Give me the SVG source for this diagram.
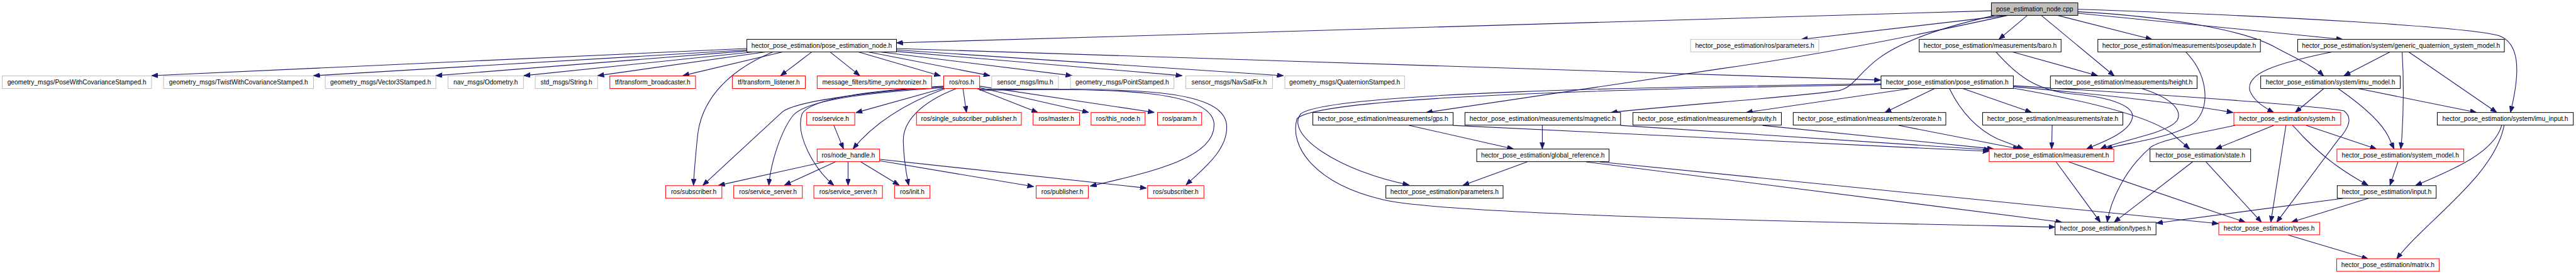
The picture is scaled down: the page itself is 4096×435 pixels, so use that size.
<svg xmlns="http://www.w3.org/2000/svg" width="4096" height="435" viewBox="0 0 4096 435">
<style>
.e{fill:none;stroke:#191970;stroke-width:1.4;marker-end:url(#ah)}
.n rect{fill:#fff;stroke:#000;stroke-width:1.3}
.g rect{stroke:#bfbfbf}
.r rect{stroke:#f00}
.root rect{fill:#bfbfbf}
text{font-family:"Liberation Sans",Arial,sans-serif;font-size:13.2px;text-anchor:middle;fill:#000}
</style>
<defs>
<marker id="ah" markerUnits="userSpaceOnUse" markerWidth="14" markerHeight="10" refX="13" refY="5" orient="auto"><path d="M0,0 L13,5 L0,10 z" fill="#191970" stroke="#191970" stroke-width="1"/></marker>
</defs>
<rect width="4096" height="435" fill="#fff"/>
<g transform="scale(0.77767)">
<g id="edges">
<path class="e" d="M4072,22 L1833,87.5"/>
<path class="e" d="M4102,31.7 L3683,80.3"/>
<path class="e" d="M4145,31.7 L4087,80.3"/>
<path class="e" d="M4174,31.7 L4323,155"/>
<path class="e" d="M4208,31.7 L4400,80.3"/>
<path class="e" d="M4248.5,27 L4790,80.3"/>
<path class="e" d="M4248.5,24 C4420,33 4590,60 4655,98 C4700,122 4730,135 4751,155"/>
<path class="e" d="M4248.5,19 C4650,32 5050,55 5110,73 C5150,88 5155,140 5133,229.7"/>
<path class="e" d="M4104,31.7 C3920,72 3720,112 3520,140 L2916,229.7"/>
<path class="e" d="M4078,31.7 C3950,60 3880,90 3840,120 C3800,150 3790,178 3760,185 C3650,200 3420,215 3294,229.7"/>
<path class="e" d="M1527,99 L310,154.5"/>
<path class="e" d="M1527,102 L641,154.5"/>
<path class="e" d="M1527,104 L891,154.5"/>
<path class="e" d="M1540,106 L1071,154.5"/>
<path class="e" d="M1565,106 L1222,154.5"/>
<path class="e" d="M1600,106 L1396,154.5"/>
<path class="e" d="M1660,106 L1596,154.5"/>
<path class="e" d="M1697,106 L1758,154.5"/>
<path class="e" d="M1755,106 L1923,155"/>
<path class="e" d="M1775,106 L2024,154.5"/>
<path class="e" d="M1800,106 L2192,154.5"/>
<path class="e" d="M1833,105 L2417,154.5"/>
<path class="e" d="M1833,102 L2624,154.5"/>
<path class="e" d="M1833,99 L3845.5,163.5"/>
<path class="e" d="M1580,106 C1475,150 1432,215 1426,280 C1422,320 1419,350 1418,378.5"/>
<path class="e" d="M1969,181 L1976,229.5"/>
<path class="e" d="M1998,181 L2122,229.5"/>
<path class="e" d="M2003,179 L2226,229.5"/>
<path class="e" d="M2003,176 L2360,229.5"/>
<path class="e" d="M1929.5,180 L1750,230"/>
<path class="e" d="M1932,181 C1840,215 1780,260 1744,304"/>
<path class="e" d="M1955,181 C1880,210 1845,250 1847,290 C1848,330 1853,355 1858,378.5"/>
<path class="e" d="M1929.5,177 C1800,185 1630,205 1600,228 L1437,378.5"/>
<path class="e" d="M1929.5,179 C1760,190 1650,205 1622,235 C1598,265 1576,330 1572,378.5"/>
<path class="e" d="M1929.5,176 C1780,185 1660,200 1640,232 C1625,275 1665,345 1705,378.5"/>
<path class="e" d="M2003,182 C2220,183 2470,175 2482,250 C2490,320 2360,350 2229,380"/>
<path class="e" d="M2003,184 C2260,182 2500,172 2508,255 C2512,305 2460,345 2425,377.5"/>
<path class="e" d="M1705,256 L1724.6,304"/>
<path class="e" d="M1685,330.5 L1469,378.5"/>
<path class="e" d="M1708,330.5 L1604,378"/>
<path class="e" d="M1734,330.5 L1734,378.5"/>
<path class="e" d="M1760,330.5 L1838.6,378"/>
<path class="e" d="M1797,328 L2113.6,381"/>
<path class="e" d="M1797,325 L2344,384"/>
<path class="e" d="M3904,181 L3570.5,229.5"/>
<path class="e" d="M3955,181 L3854,229.5"/>
<path class="e" d="M4014,181 L4154,229.5"/>
<path class="e" d="M3986,181 C4010,230 4045,265 4085,284 L4137,303.8"/>
<path class="e" d="M4116.6,177 C4300,193 4450,210 4566,229.7"/>
<path class="e" d="M4116.6,175 C4400,192 4700,212 4792,226 C4812,240 4802,262 4781,285 L4655,453.7"/>
<path class="e" d="M4116.6,180 C4250,203 4390,235 4440,272 L4477,304"/>
<path class="e" d="M3846,171 C3400,177 2720,188 2660,232 C2625,275 2740,350 2881,377.5"/>
<path class="e" d="M3846,173 C3400,180 2700,195 2652,242 C2635,300 2690,375 2825,407 C2950,440 3800,455 4202,463.5"/>
<path class="e" d="M4115,106 L4289,154.5"/>
<path class="e" d="M4081,106 C4120,150 4160,185 4240,192 C4310,198 4365,215 4360,240 C4355,270 4300,290 4266,304"/>
<path class="e" d="M4380,181 C4440,200 4462,225 4452,245 C4435,272 4330,288 4294.5,304"/>
<path class="e" d="M4469,106 C4512,150 4520,210 4492,245 C4455,282 4340,292 4306,304"/>
<path class="e" d="M4768,106 C4650,130 4592,150 4600,185 C4608,205 4630,220 4649,229.5"/>
<path class="e" d="M4886.6,106 L4792.6,154.5"/>
<path class="e" d="M4925,106 L5105,229.5"/>
<path class="e" d="M4911.5,106 C4915,160 4914,230 4911,280 L4908.7,304"/>
<path class="e" d="M4751,181 L4693,229.5"/>
<path class="e" d="M4823,181 L5063.5,229.5"/>
<path class="e" d="M4781,181 C4830,215 4870,250 4884,280 L4895,304"/>
<path class="e" d="M4649,256 L4530,304"/>
<path class="e" d="M4674,256 L4643,453.7"/>
<path class="e" d="M4687.5,256 C4700,268 4705,275 4710,280 C4760,330 4800,355 4842,378.5"/>
<path class="e" d="M4715,256 L4859,304"/>
<path class="e" d="M4570,256 C4480,275 4420,285 4398,300 C4345,345 4315,410 4308.5,453.7"/>
<path class="e" d="M5115,256 C5100,310 5020,345 4939,378.5"/>
<path class="e" d="M5120,256 C5100,360 4960,450 4900.4,528.5"/>
<path class="e" d="M4903,330.5 L4886.6,378.5"/>
<path class="e" d="M4842,405 L4685,453.7"/>
<path class="e" d="M4790,405 L4409,455.5"/>
<path class="e" d="M4679,480 L4842,528.5"/>
<path class="e" d="M3122.6,330.5 L2991,378.5"/>
<path class="e" d="M3243,330.5 L4216,453.7"/>
<path class="e" d="M3271,330.5 L4536,456.5"/>
<path class="e" d="M2881,256 L3094.6,304"/>
<path class="e" d="M2971,256 L4067,309"/>
<path class="e" d="M3153.5,256 L3153.5,304"/>
<path class="e" d="M3313.5,256 L4070,306"/>
<path class="e" d="M3604,256 L4076,304"/>
<path class="e" d="M3882,256 L4129,304"/>
<path class="e" d="M4196,256 L4195,304"/>
<path class="e" d="M4204,330.5 L4294.5,453.7"/>
<path class="e" d="M4230,330.5 C4300,355 4400,390 4591,453.7"/>
<path class="e" d="M4483,330.5 L4322.6,453.7"/>
<path class="e" d="M4510.6,330.5 L4624,453.7"/>
</g>
<g id="n_cpp" class="n root"><rect x="4071.7" y="5.7" width="176.8" height="25.7"/><text x="4160.1" y="23.15">pose_estimation_node.cpp</text></g>
<g id="n_pen_h" class="n"><rect x="1527.1" y="80.3" width="305.9" height="25.7"/><text x="1680.05" y="97.75">hector_pose_estimation/pose_estimation_node.h</text></g>
<g id="n_rosparams" class="n g"><rect x="3456.6" y="80.3" width="262.1" height="25.7"/><text x="3587.65" y="97.75">hector_pose_estimation/ros/parameters.h</text></g>
<g id="n_baro" class="n"><rect x="3924.1" y="80.3" width="290.1" height="25.7"/><text x="4069.15" y="97.75">hector_pose_estimation/measurements/baro.h</text></g>
<g id="n_poseupdate" class="n"><rect x="4289.4" y="80.3" width="332.3" height="25.7"/><text x="4455.55" y="97.75">hector_pose_estimation/measurements/poseupdate.h</text></g>
<g id="n_gqsm" class="n"><rect x="4698" y="80.3" width="422.5" height="25.7"/><text x="4909.25" y="97.75">hector_pose_estimation/system/generic_quaternion_system_model.h</text></g>
<g id="n_posewcs" class="n g"><rect x="4.5" y="155" width="305.3" height="25.7"/><text x="157.15" y="172.45">geometry_msgs/PoseWithCovarianceStamped.h</text></g>
<g id="n_twistwcs" class="n g"><rect x="334.5" y="155" width="306.5" height="25.7"/><text x="487.75" y="172.45">geometry_msgs/TwistWithCovarianceStamped.h</text></g>
<g id="n_vector3" class="n g"><rect x="665" y="155" width="226.2" height="25.7"/><text x="778.1" y="172.45">geometry_msgs/Vector3Stamped.h</text></g>
<g id="n_odometry" class="n g"><rect x="915.9" y="155" width="154.4" height="25.7"/><text x="993.1" y="172.45">nav_msgs/Odometry.h</text></g>
<g id="n_string" class="n g"><rect x="1094.4" y="155" width="127.4" height="25.7"/><text x="1158.1" y="172.45">std_msgs/String.h</text></g>
<g id="n_tfb" class="n r"><rect x="1247" y="155" width="175.1" height="25.7"/><text x="1334.55" y="172.45">tf/transform_broadcaster.h</text></g>
<g id="n_tfl" class="n r"><rect x="1497.3" y="155" width="149.3" height="25.7"/><text x="1571.95" y="172.45">tf/transform_listener.h</text></g>
<g id="n_tsync" class="n r"><rect x="1670.8" y="155" width="234" height="25.7"/><text x="1787.8" y="172.45">message_filters/time_synchronizer.h</text></g>
<g id="n_ros" class="n r"><rect x="1929.5" y="155" width="73.5" height="25.7"/><text x="1966.25" y="172.45">ros/ros.h</text></g>
<g id="n_imu" class="n g"><rect x="2027.7" y="155" width="136.4" height="25.7"/><text x="2095.9" y="172.45">sensor_msgs/Imu.h</text></g>
<g id="n_point" class="n g"><rect x="2188.8" y="155" width="211.6" height="25.7"/><text x="2294.6" y="172.45">geometry_msgs/PointStamped.h</text></g>
<g id="n_navsat" class="n g"><rect x="2424.5" y="155" width="177.3" height="25.7"/><text x="2513.15" y="172.45">sensor_msgs/NavSatFix.h</text></g>
<g id="n_quat" class="n g"><rect x="2627.1" y="155" width="244.7" height="25.7"/><text x="2749.45" y="172.45">geometry_msgs/QuaternionStamped.h</text></g>
<g id="n_pe" class="n"><rect x="3846.1" y="155" width="270.5" height="25.7"/><text x="3981.35" y="172.45">hector_pose_estimation/pose_estimation.h</text></g>
<g id="n_height" class="n"><rect x="4192.4" y="155" width="299.9" height="25.7"/><text x="4342.35" y="172.45">hector_pose_estimation/measurements/height.h</text></g>
<g id="n_imumodel" class="n"><rect x="4622.3" y="155" width="285.3" height="25.7"/><text x="4764.95" y="172.45">hector_pose_estimation/system/imu_model.h</text></g>
<g id="n_service" class="n r"><rect x="1649.4" y="229.7" width="98.3" height="25.7"/><text x="1698.55" y="247.15">ros/service.h</text></g>
<g id="n_ssp" class="n r"><rect x="1873.9" y="229.7" width="214.4" height="25.7"/><text x="1981.1" y="247.15">ros/single_subscriber_publisher.h</text></g>
<g id="n_master" class="n r"><rect x="2112.4" y="229.7" width="94.9" height="25.7"/><text x="2159.85" y="247.15">ros/master.h</text></g>
<g id="n_thisnode" class="n r"><rect x="2230.9" y="229.7" width="110.5" height="25.7"/><text x="2286.15" y="247.15">ros/this_node.h</text></g>
<g id="n_param" class="n r"><rect x="2366.7" y="229.7" width="90.3" height="25.7"/><text x="2411.85" y="247.15">ros/param.h</text></g>
<g id="n_gps" class="n"><rect x="2684.3" y="229.7" width="286.8" height="25.7"/><text x="2827.7" y="247.15">hector_pose_estimation/measurements/gps.h</text></g>
<g id="n_magnetic" class="n"><rect x="2995.3" y="229.7" width="318.2" height="25.7"/><text x="3154.4" y="247.15">hector_pose_estimation/measurements/magnetic.h</text></g>
<g id="n_gravity" class="n"><rect x="3338.7" y="229.7" width="303.6" height="25.7"/><text x="3490.5" y="247.15">hector_pose_estimation/measurements/gravity.h</text></g>
<g id="n_zerorate" class="n"><rect x="3666.5" y="229.7" width="312" height="25.7"/><text x="3822.5" y="247.15">hector_pose_estimation/measurements/zerorate.h</text></g>
<g id="n_rate" class="n"><rect x="4053.7" y="229.7" width="286.8" height="25.7"/><text x="4197.1" y="247.15">hector_pose_estimation/measurements/rate.h</text></g>
<g id="n_system" class="n r"><rect x="4567.5" y="229.7" width="218.5" height="25.7"/><text x="4676.75" y="247.15">hector_pose_estimation/system.h</text></g>
<g id="n_imuinput" class="n"><rect x="4983.4" y="229.7" width="278.1" height="25.7"/><text x="5122.45" y="247.15">hector_pose_estimation/system/imu_input.h</text></g>
<g id="n_nodehandle" class="n r"><rect x="1670.8" y="304.3" width="127.4" height="25.7"/><text x="1734.5" y="321.75">ros/node_handle.h</text></g>
<g id="n_globalref" class="n"><rect x="3019.4" y="304.3" width="270.5" height="25.7"/><text x="3154.65" y="321.75">hector_pose_estimation/global_reference.h</text></g>
<g id="n_measurement" class="n r"><rect x="4067.2" y="304.3" width="254.8" height="25.7"/><text x="4194.6" y="321.75">hector_pose_estimation/measurement.h</text></g>
<g id="n_state" class="n"><rect x="4396" y="304.3" width="205.8" height="25.7"/><text x="4498.9" y="321.75">hector_pose_estimation/state.h</text></g>
<g id="n_sysmodel" class="n r"><rect x="4778.2" y="304.3" width="259.3" height="25.7"/><text x="4907.85" y="321.75">hector_pose_estimation/system_model.h</text></g>
<g id="n_subL" class="n r"><rect x="1361" y="379" width="115" height="25.7"/><text x="1418.5" y="396.45">ros/subscriber.h</text></g>
<g id="n_ssL" class="n r"><rect x="1500.2" y="379" width="140.3" height="25.7"/><text x="1570.35" y="396.45">ros/service_server.h</text></g>
<g id="n_ssR" class="n r"><rect x="1664" y="379" width="140.3" height="25.7"/><text x="1734.15" y="396.45">ros/service_server.h</text></g>
<g id="n_init" class="n r"><rect x="1829" y="379" width="72.4" height="25.7"/><text x="1865.2" y="396.45">ros/init.h</text></g>
<g id="n_publisher" class="n r"><rect x="2118.6" y="379" width="106.7" height="25.7"/><text x="2171.95" y="396.45">ros/publisher.h</text></g>
<g id="n_subR" class="n r"><rect x="2346.5" y="379" width="115" height="25.7"/><text x="2404" y="396.45">ros/subscriber.h</text></g>
<g id="n_parameters" class="n"><rect x="2833.6" y="379" width="239.7" height="25.7"/><text x="2953.45" y="396.45">hector_pose_estimation/parameters.h</text></g>
<g id="n_input" class="n"><rect x="4778.8" y="379" width="202.3" height="25.7"/><text x="4879.95" y="396.45">hector_pose_estimation/input.h</text></g>
<g id="n_typesB" class="n"><rect x="4201.9" y="453.7" width="206.4" height="25.7"/><text x="4305.1" y="471.15">hector_pose_estimation/types.h</text></g>
<g id="n_typesR" class="n r"><rect x="4536.6" y="453.7" width="206.2" height="25.7"/><text x="4639.7" y="471.15">hector_pose_estimation/types.h</text></g>
<g id="n_matrix" class="n r"><rect x="4777.7" y="528.3" width="209.5" height="25.7"/><text x="4882.45" y="545.75">hector_pose_estimation/matrix.h</text></g>
</g>
</svg>
